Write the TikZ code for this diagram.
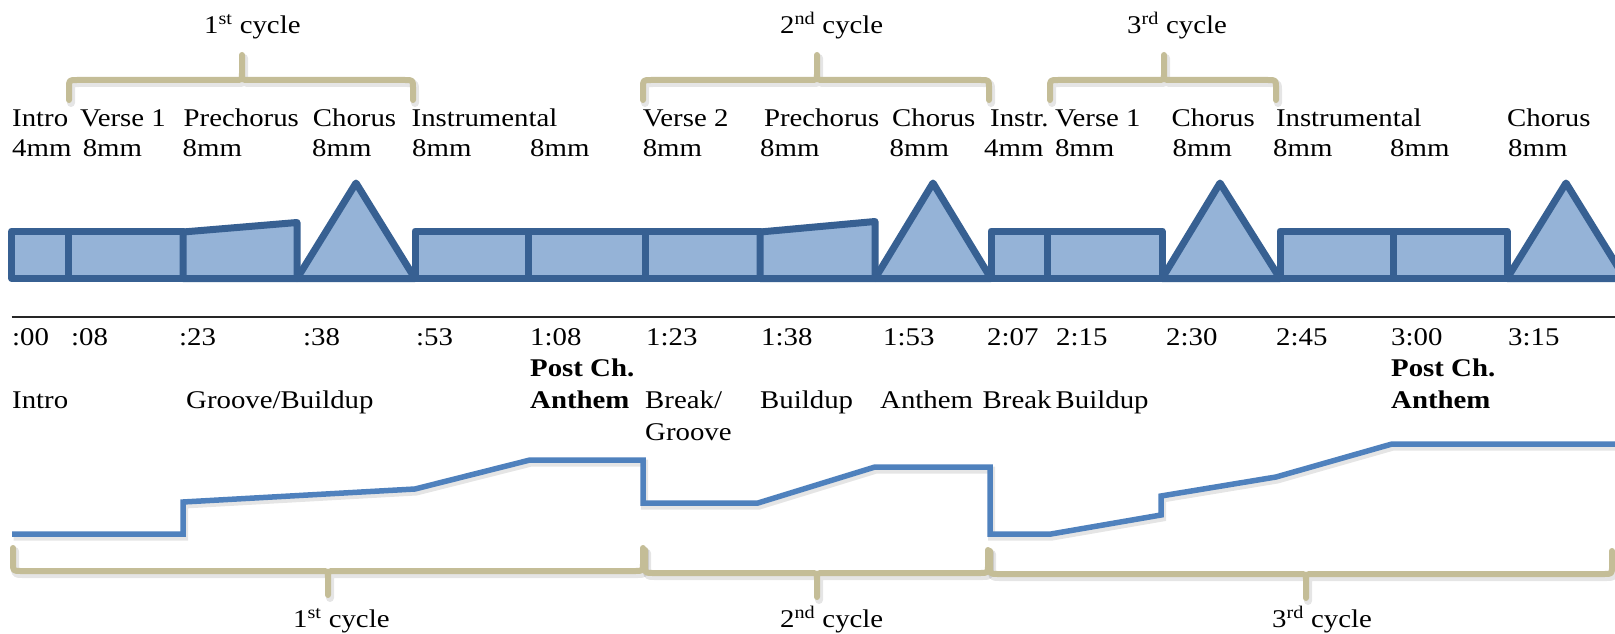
\documentclass[tikz,border=0pt]{standalone}
\usepackage{fontspec}
\setmainfont{Liberation Serif}[FakeStretch=1.13]
\definecolor{boxfill}{HTML}{95B3D7}
\definecolor{boxedge}{HTML}{376092}
\definecolor{bracecol}{HTML}{C4BD97}
\definecolor{energycol}{HTML}{4F81BD}
% upward brace over the song sections: left x, tip x, right x
\newcommand\cyclebraceup[3]{%
  (#1,100) -- (#1,88) .. controls (#1,80) .. (#1+8,80) -- (#2-7,80)
  .. controls (#2,80) .. (#2,73) -- (#2,55)
  (#2,73) .. controls (#2,80) .. (#2+7,80) -- (#3-8,80)
  .. controls (#3,80) .. (#3,88) -- (#3,100)}
% downward brace under the energy curve: left x, tip x, right x, bar y
\newcommand\cyclebracedown[4]{%
  (#1,#4-23) -- (#1,#4-8) .. controls (#1,#4) .. (#1+8,#4) -- (#2-7,#4)
  .. controls (#2,#4) .. (#2,#4+7) -- (#2,#4+24)
  (#2,#4+7) .. controls (#2,#4) .. (#2+7,#4) -- (#3-8,#4)
  .. controls (#3,#4) .. (#3,#4-8) -- (#3,#4-23)}
\begin{document}
\begin{tikzpicture}[x=1pt,y=-1pt,
  lbl/.style={anchor=base west, inner sep=0pt, font=\fontsize{25.5}{30}\selectfont},
  blbl/.style={anchor=base west, inner sep=0pt, font=\fontsize{25.5}{30}\selectfont\bfseries},
  seg/.style={draw=boxedge, fill=boxfill, line width=7pt, line join=round},
  bracket/.style={draw=bracecol, line width=6pt, line cap=round, line join=round},
  bracketshadow/.style={draw=black, opacity=0.10, line width=8pt, line cap=round, line join=round},
  energy/.style={draw=energycol, line width=5.5pt},
  energyshadow/.style={draw=black, opacity=0.10, line width=7pt}
]
\useasboundingbox (0,0) rectangle (1615,634);
\fill[white] (0,0) rectangle (1615,634);

% ---- cycle braces above the sections
\foreach \l/\t/\r in {69/242/413, 643/817/989, 1050/1164/1276} {
  \draw[bracketshadow, shift={(2,3)}] \cyclebraceup{\l}{\t}{\r};
  \draw[bracket] \cyclebraceup{\l}{\t}{\r};
}
\node[lbl] (c1top) at (204,33.3) {1\textsuperscript{st} cycle};
\node[lbl] (c2top) at (780,33.3) {2\textsuperscript{nd} cycle};
\node[lbl] (c3top) at (1127,33.3) {3\textsuperscript{rd} cycle};

% ---- section names
\node[lbl] (s1)  at (12,126.7)   {Intro};
\node[lbl] (s2)  at (80,126.7)   {Verse 1};
\node[lbl] (s3)  at (183.5,126.7) {Prechorus};
\node[lbl] (s4)  at (312.7,126.7) {Chorus};
\node[lbl] (s5)  at (411.5,126.7) {Instrumental};
\node[lbl] (s6)  at (642.6,126.7) {Verse 2};
\node[lbl] (s7)  at (763.8,126.7) {Prechorus};
\node[lbl] (s8)  at (892,126.7)   {Chorus};
\node[lbl] (s9)  at (990,126.7)   {Instr.};
\node[lbl] (s10) at (1054.8,126.7) {Verse 1};
\node[lbl] (s11) at (1171.4,126.7) {Chorus};
\node[lbl] (s12) at (1275.8,126.7) {Instrumental};
\node[lbl] (s13) at (1507,126.7)  {Chorus};

% ---- section lengths
\foreach \x/\t [count=\i] in {12/4mm, 82.6/8mm, 182.5/8mm, 312/8mm, 412/8mm, 530/8mm,
    642.6/8mm, 760/8mm, 889.5/8mm, 984/4mm, 1054.8/8mm, 1172.5/8mm, 1273/8mm,
    1390/8mm, 1508/8mm}
  \node[lbl] (len\i) at (\x,156.7) {\t};

% ---- section blocks
\path[seg] (11.7,231) rectangle (68,278.5);
\path[seg] (68,231) rectangle (183,278.5);
\path[seg] (183,232) -- (297,222.5) -- (297,278.5) -- (183,278.5) -- cycle;
\path[seg] (297,278.5) -- (356,183) -- (415,278.5) -- cycle;
\path[seg] (415,231) rectangle (528,278.5);
\path[seg] (528,231) rectangle (645,278.5);
\path[seg] (645,231) rectangle (760,278.5);
\path[seg] (760,232) -- (875,221.5) -- (875,278.5) -- (760,278.5) -- cycle;
\path[seg] (875,278.5) -- (933,183) -- (991,278.5) -- cycle;
\path[seg] (991,231) rectangle (1047,278.5);
\path[seg] (1047,231) rectangle (1162,278.5);
\path[seg] (1162,278.5) -- (1220,183) -- (1280,278.5) -- cycle;
\path[seg] (1280,231) rectangle (1393,278.5);
\path[seg] (1393,231) rectangle (1507,278.5);
\path[seg] (1507,278.5) -- (1566,183) -- (1625,278.5) -- cycle;

% ---- time rule
\draw[line width=1.8pt, black!85] (11.5,317) -- (1615,317);

% ---- time stamps
\foreach \x/\t [count=\i] in {12/:00, 71/:08, 179/:23, 303/:38, 416/:53, 530/1:08,
    646/1:23, 761/1:38, 883/1:53, 987/2:07, 1056/2:15, 1166/2:30, 1276/2:45,
    1391/3:00, 1508/3:15}
  \node[lbl] (tm\i) at (\x,345) {\t};

% ---- character of each part
\node[blbl] (pc1) at (530,376.7)  {Post Ch.};
\node[blbl] (an1) at (530,408.3)  {Anthem};
\node[blbl] (pc2) at (1391,376.7) {Post Ch.};
\node[blbl] (an2) at (1391,408.3) {Anthem};
\node[lbl] (k1) at (12,408.3)     {Intro};
\node[lbl] (k2) at (186,408.3)    {Groove/Buildup};
\node[lbl] (k3) at (645,408.3)    {Break/};
\node[lbl] (k3b) at (645,440)     {Groove};
\node[lbl] (k4) at (760,408.3)    {Buildup};
\node[lbl] (k5) at (880,408.3)    {Anthem};
\node[lbl] (k6) at (982.5,408.3)  {Break};
\node[lbl] (k7) at (1055.5,408.3) {Buildup};

% ---- energy curve
\def\energypath{(12,534) -- (183,534) -- (183,502) -- (415,489) -- (530,460)
  -- (643,460) -- (643,503) -- (758,503) -- (875,467) -- (990,467) -- (990,534)
  -- (1051,534) -- (1161,515) -- (1161,496) -- (1276,477) -- (1392,444) -- (1620,444)}
\draw[energyshadow, shift={(1.5,3)}] \energypath;
\draw[energy] \energypath;

% ---- cycle braces below the curve
\foreach \l/\t/\r/\y in {13/328/643/571, 645/817/988/573, 990/1306/1612/574} {
  \draw[bracketshadow, shift={(2,3)}] \cyclebracedown{\l}{\t}{\r}{\y};
  \draw[bracket] \cyclebracedown{\l}{\t}{\r}{\y};
}
\node[lbl] (c1bot) at (293,627.5)  {1\textsuperscript{st} cycle};
\node[lbl] (c2bot) at (780,627.5)  {2\textsuperscript{nd} cycle};
\node[lbl] (c3bot) at (1272,627.5) {3\textsuperscript{rd} cycle};
\end{tikzpicture}
\end{document}
